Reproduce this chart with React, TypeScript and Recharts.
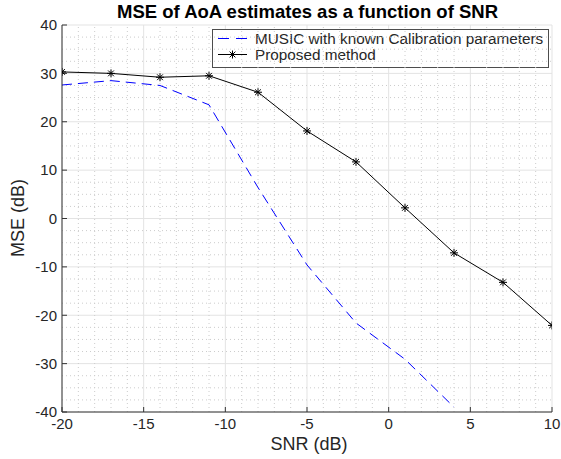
import React from 'react';
import {
  LineChart,
  Line,
  XAxis,
  YAxis,
  CartesianGrid,
  ReferenceLine,
} from 'recharts';

// values
const snr = [-20, -17, -14, -11, -8, -5, -2, 1, 4, 7, 10];
const musicMse: (number | null)[] = [27.6, 28.5, 27.5, 23.5, 6.4, -9.6, -21.6, -29.1, -39, null, null];
const proposedMse = [30.3, 30.0, 29.2, 29.5, 26.1, 18.1, 11.7, 2.2, -7.1, -13.2, -22.1];

const xTicks = [-20, -15, -10, -5, 0, 5, 10];
const yTicks = [-40, -30, -20, -10, 0, 10, 20, 30, 40];
const xMinor = [-19, -18, -17, -16, -14, -13, -12, -11, -9, -8, -7, -6, -4, -3, -2, -1, 1, 2, 3, 4, 6, 7, 8, 9];
const yMinor = [-37.5, -35, -32.5, -27.5, -25, -22.5, -17.5, -15, -12.5, -7.5, -5, -2.5, 2.5, 5, 7.5, 12.5, 15, 17.5, 22.5, 25, 27.5, 32.5, 35, 37.5];

const data = snr.map((x, i) => ({ snr: x, music: musicMse[i], proposed: proposedMse[i] }));

const FONT = '"Liberation Sans", Arial, Helvetica, sans-serif';
const AXIS = '#333333';
const TEXT = '#262626';

function Star({ cx, cy, size = 4, color = '#000' }: { cx: number; cy: number; size?: number; color?: string }) {
  const d = size * 0.72;
  return (
    <g stroke={color} strokeWidth={1}>
      <line x1={cx - size} y1={cy} x2={cx + size} y2={cy} />
      <line x1={cx} y1={cy - size} x2={cx} y2={cy + size} />
      <line x1={cx - d} y1={cy - d} x2={cx + d} y2={cy + d} />
      <line x1={cx - d} y1={cy + d} x2={cx + d} y2={cy - d} />
    </g>
  );
}

const renderStar = (props: any) => {
  const { cx, cy, index } = props;
  if (cx == null || cy == null) return <g key={`s-${index}`} />;
  return <Star key={`s-${index}`} cx={cx} cy={cy} />;
};

const tickStyle = { fontSize: 15, fill: TEXT, fontFamily: FONT };

export default function App() {
  return (
    <div style={{ position: 'absolute', left: 0, top: 0, width: 561, height: 459, background: '#fff' }}>
      <LineChart
        width={561}
        height={459}
        data={data}
        margin={{ top: 25, right: 9, bottom: 0, left: 0 }}
        style={{ fontFamily: FONT }}
      >
        {xMinor.map((v) => (
          <ReferenceLine key={`xm${v}`} x={v} stroke="#cccccc" strokeDasharray="1 3" />
        ))}
        {yMinor.map((v) => (
          <ReferenceLine key={`ym${v}`} y={v} stroke="#cccccc" strokeDasharray="1 3" />
        ))}
        <CartesianGrid stroke="#e3e3e3" strokeWidth={1} />
        <XAxis
          dataKey="snr"
          type="number"
          domain={[-20, 10]}
          ticks={xTicks}
          interval={0}
          height={47}
          tickSize={-5}
          tickMargin={11}
          tick={tickStyle}
          stroke={AXIS}
          allowDataOverflow
        />
        <XAxis
          xAxisId="top"
          orientation="top"
          dataKey="snr"
          type="number"
          domain={[-20, 10]}
          ticks={xTicks}
          interval={0}
          height={0}
          tickSize={-5}
          tick={false}
          stroke={AXIS}
          allowDataOverflow
        />
        <YAxis
          type="number"
          domain={[-40, 40]}
          ticks={yTicks}
          interval={0}
          width={62}
          tickSize={-5}
          tickMargin={10}
          tick={tickStyle}
          stroke={AXIS}
          allowDataOverflow
        />
        <YAxis
          yAxisId="right"
          orientation="right"
          type="number"
          domain={[-40, 40]}
          ticks={yTicks}
          interval={0}
          width={0}
          tickSize={-5}
          tick={false}
          stroke={AXIS}
          allowDataOverflow
        />
        <Line
          dataKey="music"
          stroke="#0000ff"
          strokeWidth={1}
          strokeDasharray="10 6"
          dot={false}
          activeDot={false}
          isAnimationActive={false}
        />
        <Line
          dataKey="proposed"
          stroke="#000000"
          strokeWidth={1}
          dot={renderStar}
          activeDot={false}
          isAnimationActive={false}
        />

        {/* legend */}
        <rect x={212.5} y={29.5} width={336} height={38} fill="#ffffff" stroke="#4d4d4d" strokeWidth={1} />
        <line x1={218} y1={38.5} x2={247} y2={38.5} stroke="#0000ff" strokeWidth={1} strokeDasharray="11 7" />
        <text x={255} y={43.8} fontSize={15.3} fill={TEXT} fontFamily={FONT}>
          MUSIC with known Calibration parameters
        </text>
        <line x1={218} y1={54.5} x2={247} y2={54.5} stroke="#000" strokeWidth={1} />
        <Star cx={232.5} cy={54.5} />
        <text x={255} y={59.8} fontSize={15.3} fill={TEXT} fontFamily={FONT}>
          Proposed method
        </text>

        {/* title and axis labels */}
        <text x={307.5} y={18} textAnchor="middle" fontSize={18.5} fontWeight="bold" fill="#000" fontFamily={FONT}>
          MSE of AoA estimates as a function of SNR
        </text>
        <text x={309} y={450} textAnchor="middle" fontSize={18} fill={TEXT} fontFamily={FONT}>
          SNR (dB)
        </text>
        <text
          x={24}
          y={218}
          textAnchor="middle"
          fontSize={18}
          fill={TEXT}
          fontFamily={FONT}
          transform="rotate(-90 24 218)"
        >
          MSE (dB)
        </text>
      </LineChart>
    </div>
  );
}
